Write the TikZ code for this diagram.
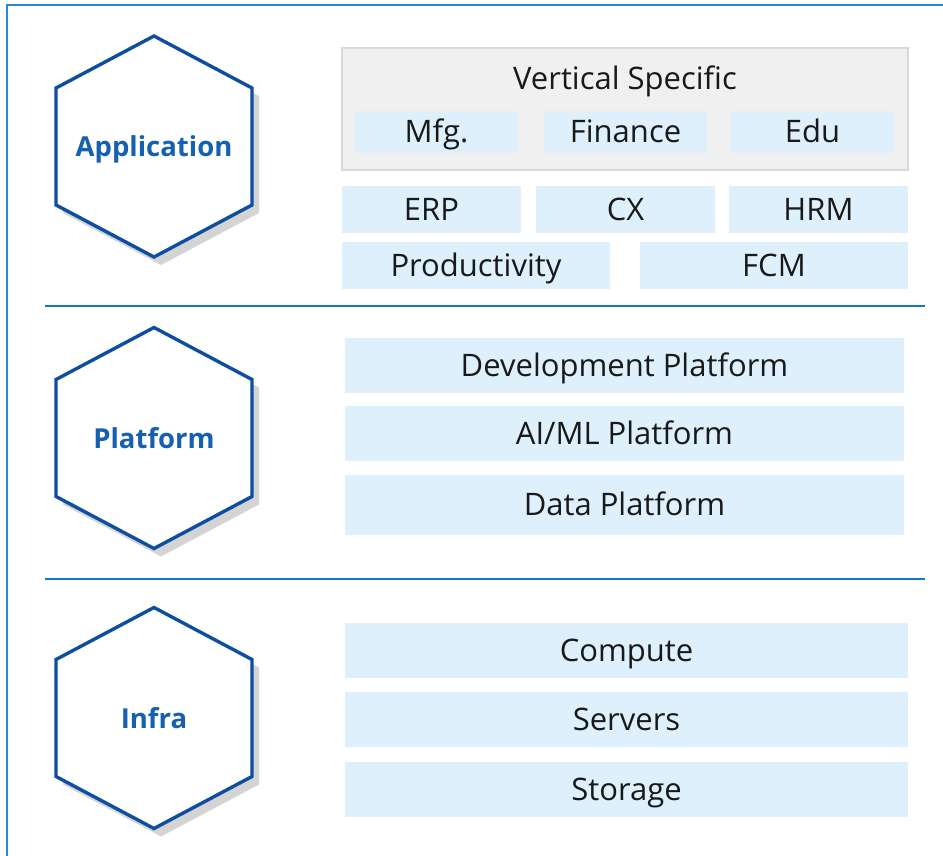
\documentclass[tikz,border=0pt]{standalone}
\usepackage{fontspec}
\setmainfont{Open Sans}
\usetikzlibrary{positioning}
\definecolor{framecol}{HTML}{2B87D8}
\definecolor{sepcol}{HTML}{1677C9}
\definecolor{hexcol}{HTML}{0D4EA0}
\definecolor{lblcol}{HTML}{1560B0}
\definecolor{tilefill}{HTML}{DEF0FC}
\definecolor{vsfill}{HTML}{F0F0F0}
\definecolor{vsline}{HTML}{D9D9D9}
\definecolor{shadowcol}{HTML}{D4D4D4}

\begin{document}
\begin{tikzpicture}[x=1pt,y=-1pt,
  tile/.style={fill=tilefill,inner sep=0pt,text height=22pt,text depth=0pt,
    font=\fontsize{31}{36}\selectfont,text=black!90},
  vsbox/.style={fill=vsfill,draw=vsline,line width=2pt,inner sep=0pt},
  hexline/.style={draw=hexcol,line width=3.4pt,fill=white,line join=miter},
  layerlbl/.style={text=lblcol,font=\bfseries\fontsize{27.5}{32}\selectfont,
    inner sep=0pt,text height=20pt,text depth=0pt},
  seprule/.style={draw=sepcol,line width=2.5pt}]
\useasboundingbox (0,0) rectangle (943,856);

% outer frame (only top and left edges show)
\draw[framecol,line width=2pt] (7,856) -- (7,5) -- (943,5);

% layer separators
\coordinate (s1a) at (45,306);
\coordinate (s1b) at (925,306);
\coordinate (s2a) at (45,579);
\coordinate (s2b) at (925,579);
\draw[seprule] (s1a) -- (s1b);
\draw[seprule] (s2a) -- (s2b);

% hexagons
\foreach \lbl/\nm/\cy in {Application/app/146.5, Platform/plat/438, Infra/infra/718} {
  \fill[shadowcol,shift={(7,8)}] (154,\cy-110.5) -- ++(98,52) -- ++(0,117)
    -- ++(-98,52) -- ++(-98,-52) -- ++(0,-117) -- cycle;
  \path[hexline] (154,\cy-110.5) -- ++(98,52) -- ++(0,117)
    -- ++(-98,52) -- ++(-98,-52) -- ++(0,-117) -- cycle;
  \node[layerlbl] (\nm) at (154,\cy) {\lbl};
}

% Application
\node[vsbox,minimum width=566pt,minimum height=122pt] (vs) at (625,109) {};
\node[tile,fill=none] (vstitle) at (625,78.5) {Vertical Specific};
\node[tile,minimum width=163pt,minimum height=42pt] (mfg) at (436.5,132) {Mfg.};
\node[tile,minimum width=163pt,minimum height=42pt] (fin) at (625.5,132) {Finance};
\node[tile,minimum width=163pt,minimum height=42pt] (edu) at (812.5,132) {Edu};
\node[tile,minimum width=179pt,minimum height=47pt] (erp) at (431.5,209.5) {ERP};
\node[tile,minimum width=179pt,minimum height=47pt] (cx) at (625.5,209.5) {CX};
\node[tile,minimum width=179pt,minimum height=47pt] (hrm) at (818.5,209.5) {HRM};
\node[tile,minimum width=268pt,minimum height=47pt] (prod) at (476,265.5) {Productivity};
\node[tile,minimum width=268pt,minimum height=47pt] (fcm) at (774,265.5) {FCM};

% Platform
\node[tile,minimum width=559pt,minimum height=55pt] (dev) at (624.5,365.5) {Development Platform};
\node[tile,minimum width=559pt,minimum height=55pt,below=13pt of dev] (aiml) {AI/ML Platform};
\node[tile,minimum width=559pt,minimum height=60pt,below=13pt of aiml] (data) {Data Platform};

% Infra
\node[tile,minimum width=563pt,minimum height=55pt] (compute) at (626.5,650.5) {Compute};
\node[tile,minimum width=563pt,minimum height=55pt,below=14pt of compute] (servers) {Servers};
\node[tile,minimum width=563pt,minimum height=55pt,below=14pt of servers] (storage) {Storage};
\end{tikzpicture}
\end{document}
